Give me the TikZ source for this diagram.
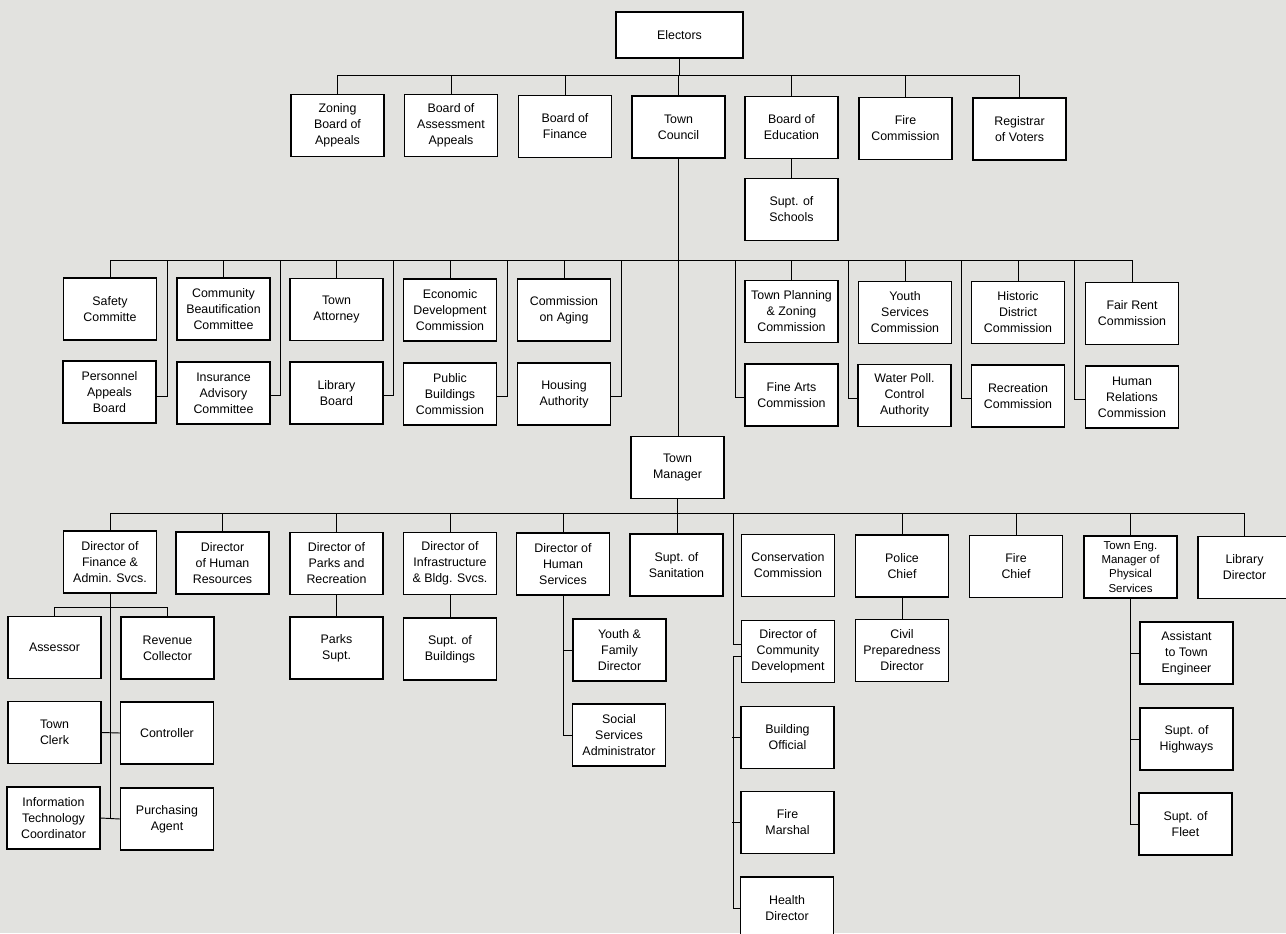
\documentclass[tikz,border=0pt]{standalone}
\usepackage{fontspec}
\setmainfont{Liberation Sans}
\definecolor{bgcol}{RGB}{226,226,223}
\begin{document}
\begin{tikzpicture}[x=0.75pt,y=-0.75pt,
  box/.style={draw, fill=white, line width=0.8pt, minimum width=69.75pt, minimum height=46.5pt,
    inner sep=1pt, align=center, font=\fontsize{9.3}{12}\selectfont},
  conn/.style={line width=0.7pt}]
\fill[bgcol] (0,0) rectangle (1286,933);
\useasboundingbox (0,0) rectangle (1286,933);
% top
\node[box, minimum width=95.25pt, minimum height=34.5pt] (el) at (679.5,35) {Electors};
\node[box] (zba) at (337.5,125.5) {Zoning\\Board of\\Appeals};
\node[box] (baa) at (451,125.5) {Board of\\Assessment\\Appeals};
\node[box] (bof) at (565,126.5) {Board of\\Finance};
\node[box] (tc) at (678.5,127) {Town\\Council};
\node[box] (boe) at (791.5,127.5) {Board of\\Education};
\node[box] (fc) at (905.5,128.5) {Fire\\Commission};
\node[box] (rov) at (1019.5,129) {Registrar\\of Voters};
\node[box] (sch) at (791.5,209.5) {Supt. of\\Schools};
% row A
\node[box] (saf) at (110,309) {Safety\\Committe};
\node[box] (cbc) at (223.5,309) {Community\\Beautification\\Committee};
\node[box] (ta) at (336.5,309.5) {Town\\Attorney};
\node[box] (edc) at (450,310) {Economic\\Development\\Commission};
\node[box] (coa) at (564,310) {Commission\\on Aging};
\node[box] (tpz) at (791.5,311.5) {Town Planning\\\& Zoning\\Commission};
\node[box] (ysc) at (905,312.5) {Youth\\Services\\Commission};
\node[box] (hdc) at (1018,312.5) {Historic\\District\\Commission};
\node[box] (frc) at (1132,313.5) {Fair Rent\\Commission};
% row B
\node[box] (pab) at (109.5,392) {Personnel\\Appeals\\Board};
\node[box] (iac) at (223.5,393) {Insurance\\Advisory\\Committee};
\node[box] (lb) at (336.5,393) {Library\\Board};
\node[box] (pbc) at (450,394) {Public\\Buildings\\Commission};
\node[box] (ha) at (564,394) {Housing\\Authority};
\node[box] (fac) at (791.5,395) {Fine Arts\\Commission};
\node[box] (wpc) at (904.5,395.5) {Water Poll.\\Control\\Authority};
\node[box] (rc) at (1018,396) {Recreation\\Commission};
\node[box] (hrc) at (1132,397) {Human\\Relations\\Commission};
% town manager
\node[box] (tm) at (677.5,467.5) {Town\\Manager};
% row C
\node[box] (dfa) at (110,562) {Director of\\Finance \&\\Admin. Svcs.};
\node[box] (dhr) at (222.5,563) {Director\\of Human\\Resources};
\node[box] (dpr) at (336.5,563.5) {Director of\\Parks and\\Recreation};
\node[box] (dib) at (450,563.5) {Director of\\Infrastructure\\\& Bldg. Svcs.};
\node[box] (dhs) at (563,564) {Director of\\Human\\Services};
\node[box] (san) at (676.5,565) {Supt. of\\Sanitation};
\node[box] (cc) at (788,565.5) {Conservation\\Commission};
\node[box] (pc) at (902,566) {Police\\Chief};
\node[box] (fch) at (1016,566.5) {Fire\\Chief};
\node[box, font=\fontsize{8.6}{10.6}\selectfont] (te) at (1130.5,567) {Town Eng.\\Manager of\\Physical\\Services};
\node[box] (ld) at (1244.5,567.5) {Library\\Director};
% finance subtree
\node[box] (ass) at (54.5,647.5) {Assessor};
\node[box] (rev) at (167.5,648) {Revenue\\Collector};
\node[box] (clk) at (54.5,732.5) {Town\\Clerk};
\node[box] (ctl) at (167,733) {Controller};
\node[box] (itc) at (53.5,818) {Information\\Technology\\Coordinator};
\node[box] (pa) at (167,819) {Purchasing\\Agent};
% others
\node[box] (psu) at (336.5,648) {Parks\\Supt.};
\node[box] (sbu) at (450,649) {Supt. of\\Buildings};
\node[box] (yfd) at (619.5,650) {Youth \&\\Family\\Director};
\node[box] (ssa) at (619,735) {Social\\Services\\Administrator};
\node[box] (cdv) at (788,651.5) {Director of\\Community\\Development};
\node[box] (bo) at (787.5,737.5) {Building\\Official};
\node[box] (fm) at (787.5,822.5) {Fire\\Marshal};
\node[box] (hd) at (787,908) {Health\\Director};
\node[box] (cpd) at (902,650.5) {Civil\\Preparedness\\Director};
\node[box] (ate) at (1186.5,653) {Assistant\\to Town\\Engineer};
\node[box] (shw) at (1186.5,739) {Supt. of\\Highways};
\node[box] (sfl) at (1185.5,824) {Supt. of\\Fleet};
% buses
\coordinate (b1) at (679,75);
\coordinate (b2) at (679,260);
\coordinate (b3) at (679,513);
\coordinate (fb) at (110,607);
\coordinate (k1) at (167,260);
\coordinate (k2) at (280,260);
\coordinate (k3) at (393,260);
\coordinate (k4) at (507,260);
\coordinate (k5) at (621,260);
\coordinate (k6) at (735,260);
\coordinate (k7) at (848,260);
\coordinate (k8) at (961,260);
\coordinate (k9) at (1074,260);
\coordinate (k10) at (733,513);
% connectors level 1
\draw[conn] (el.south) -- (el.south |- b1);
\draw[conn] (zba.north) -- (zba.north |- b1) -- (rov.north |- b1) -- (rov.north);
\foreach \n in {baa,bof,tc,boe,fc} \draw[conn] (\n.north) -- (\n.north |- b1);
\draw[conn] (boe.south) -- (sch.north);
\draw[conn] (tc.south) -- (tc.south |- tm.north);
% level 2
\draw[conn] (saf.north) -- (saf.north |- b2) -- (frc.north |- b2) -- (frc.north);
\foreach \n in {cbc,ta,edc,coa,tpz,ysc,hdc} \draw[conn] (\n.north) -- (\n.north |- b2);
\draw[conn] ([yshift=-3pt]pab.east) -| (k1);
\draw[conn] ([yshift=-2pt]iac.east) -| (k2);
\draw[conn] ([yshift=-2pt]lb.east) -| (k3);
\draw[conn] ([yshift=-2pt]pbc.east) -| (k4);
\draw[conn] ([yshift=-2pt]ha.east) -| (k5);
\draw[conn] ([yshift=-2pt]fac.west) -| (k6);
\draw[conn] ([yshift=-2pt]wpc.west) -| (k7);
\draw[conn] ([yshift=-2pt]rc.west) -| (k8);
\draw[conn] ([yshift=-2pt]hrc.west) -| (k9);
% level 3
\draw[conn] (dfa.north) -- (dfa.north |- b3) -- (ld.north |- b3) -- (ld.north);
\foreach \n in {dhr,dpr,dib,dhs,pc,fch,te} \draw[conn] (\n.north) -- (\n.north |- b3);
\draw[conn] (tm.south) -- (tm.south |- san.north);
% finance
\draw[conn] (ass.north) -- (ass.north |- fb) -- (rev.north |- fb) -- (rev.north);
\draw[conn] (dfa.south) -- (dfa.south |- itc.east);
\draw[conn] (clk.east) -- (ctl.west);
\draw[conn] (itc.east) -- (pa.west);
% parks, infra
\draw[conn] (dpr.south) -- (psu.north);
\draw[conn] (dib.south) -- (sbu.north);
% human services
\draw[conn] (dhs.south) |- (ssa.west);
\draw[conn] (yfd.west) -- (yfd.west -| dhs.south);
% community development
\draw[conn] (k10) |- ([yshift=5pt]cdv.west);
\draw[conn] ([yshift=-4pt]cdv.west) -- ++(-6pt,0) |- (hd.west);
\draw[conn] (bo.west) -- ++(-6pt,0);
\draw[conn] (fm.west) -- ++(-6pt,0);
% police
\draw[conn] (pc.south) -- (cpd.north);
% town eng
\draw[conn] (te.south) |- (sfl.west);
\draw[conn] (ate.west) -- (ate.west -| te.south);
\draw[conn] (shw.west) -- (shw.west -| te.south);
\end{tikzpicture}
\end{document}
